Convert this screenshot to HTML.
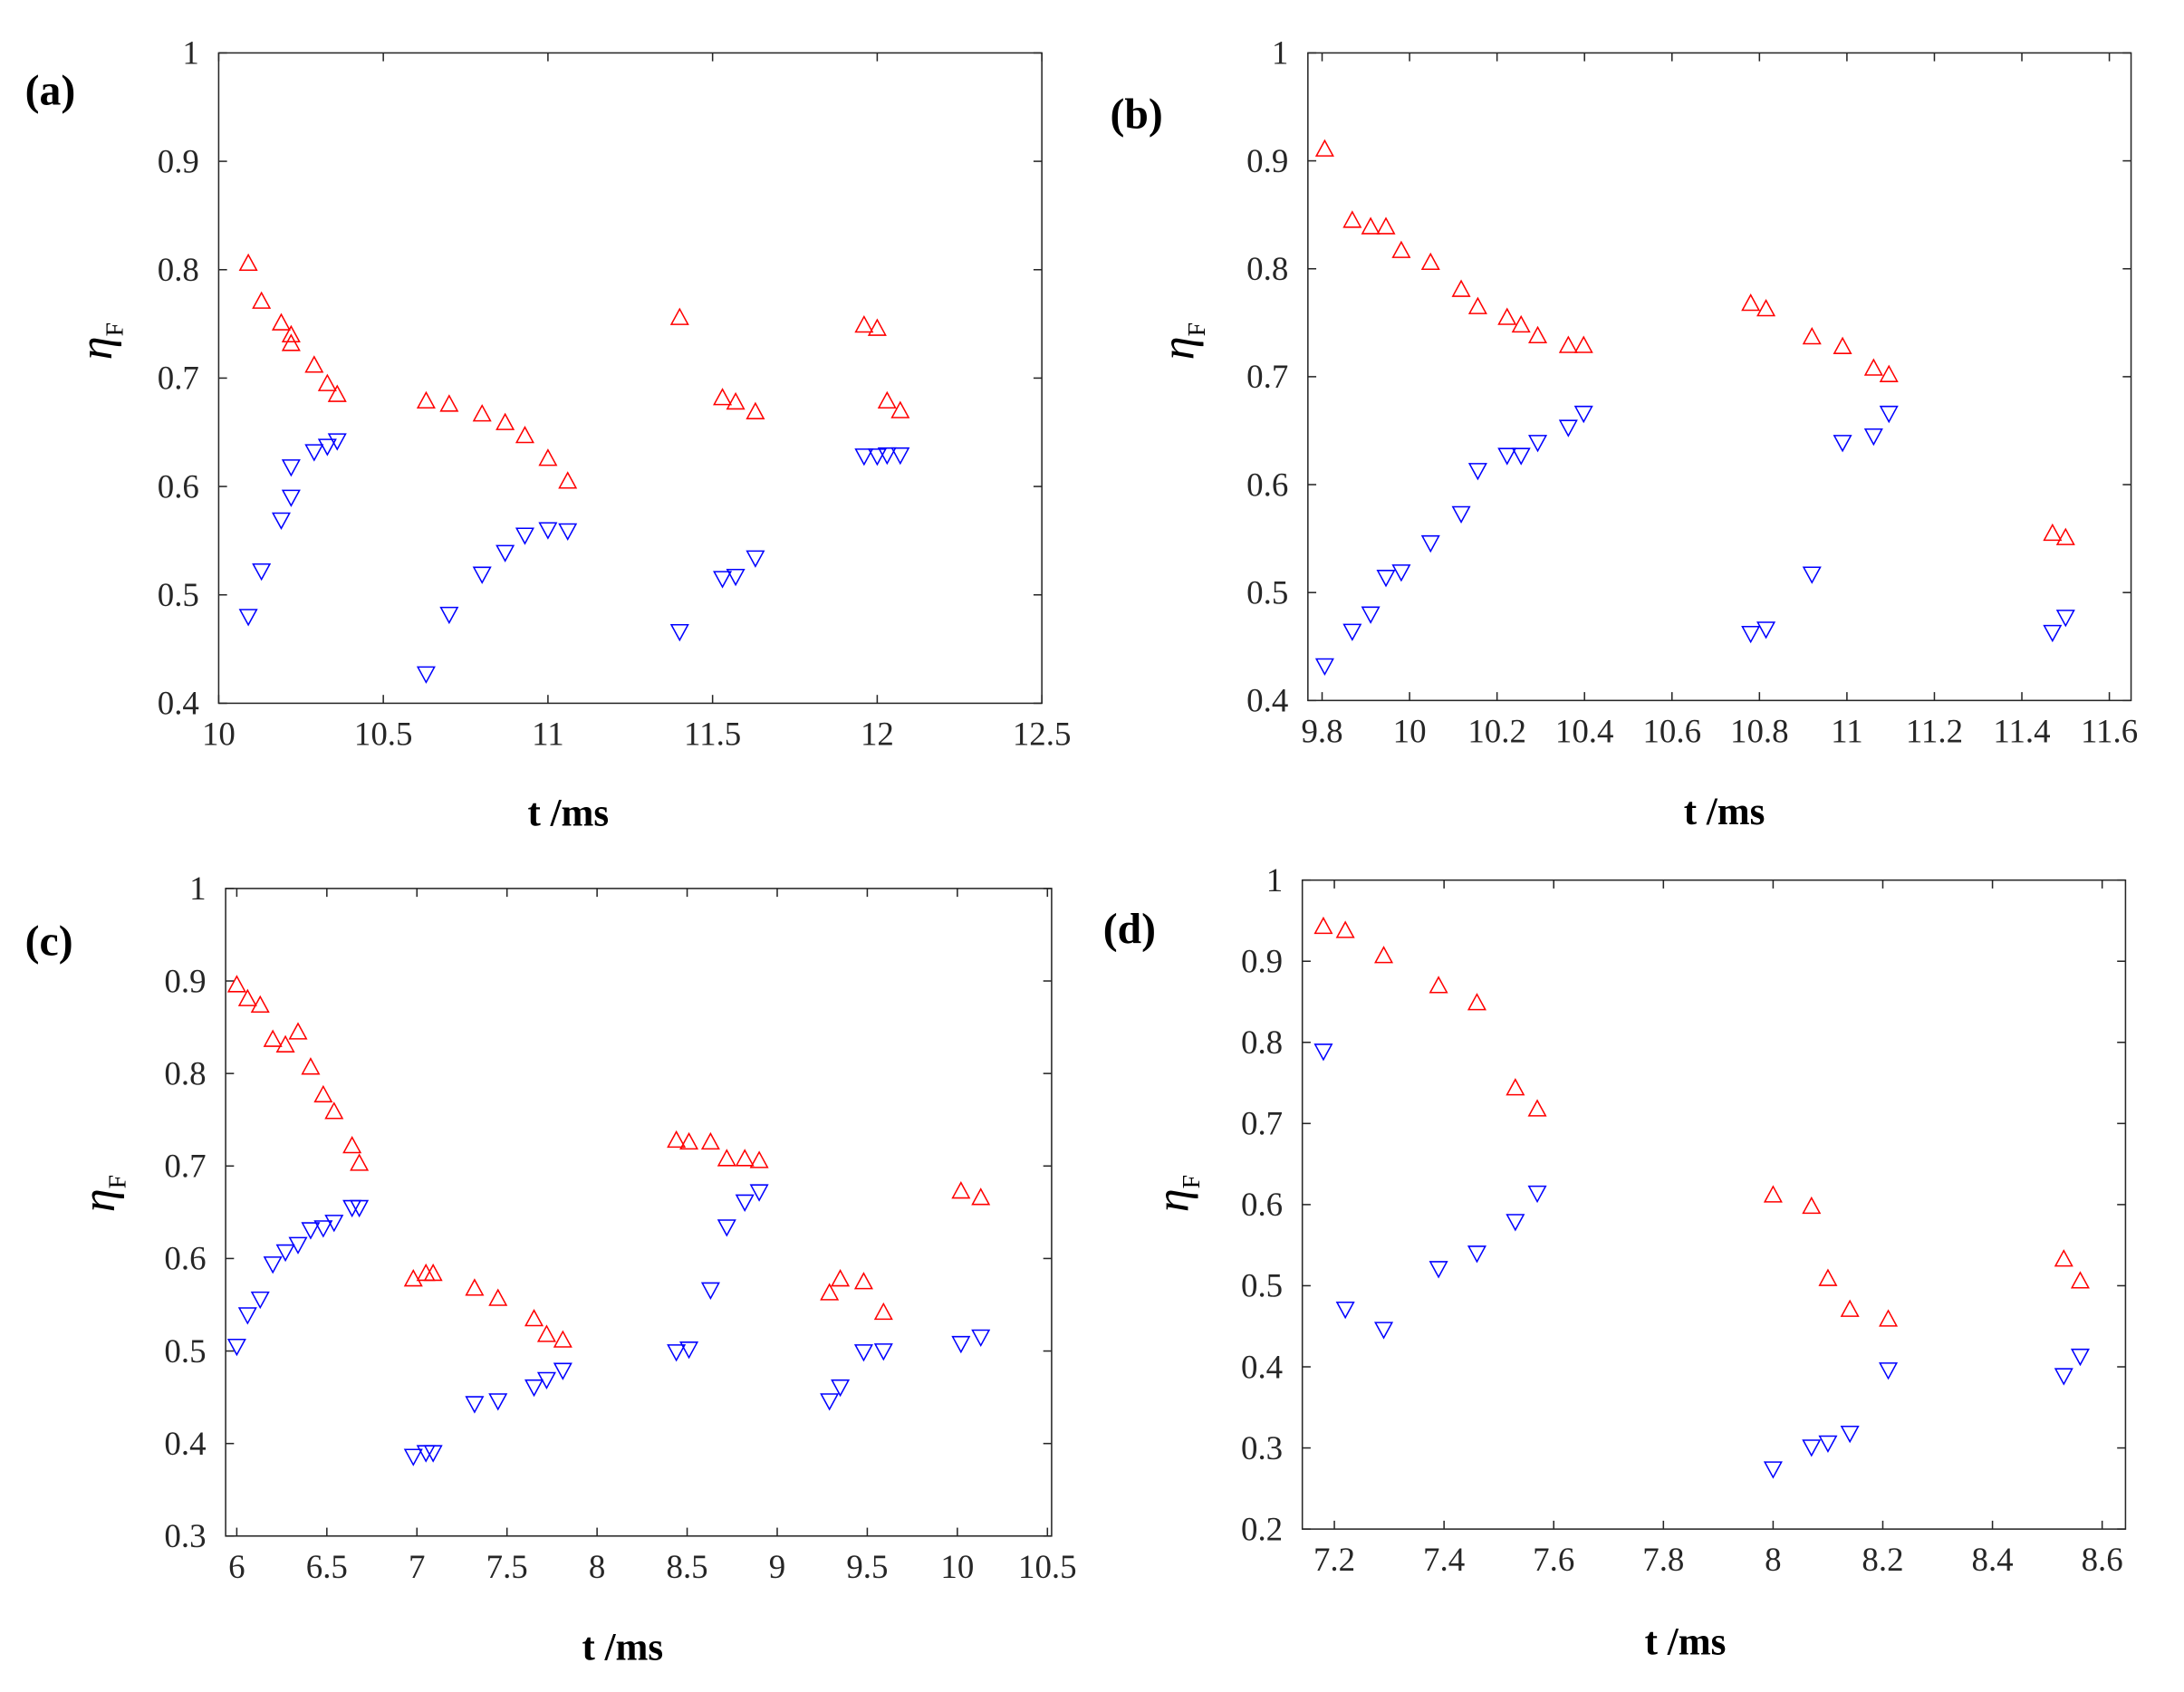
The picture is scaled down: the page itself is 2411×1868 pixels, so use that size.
<!DOCTYPE html>
<html><head><meta charset="utf-8"><style>
html,body{margin:0;padding:0;background:#fff;}
svg{display:block;font-family:"Liberation Serif",serif;}
</style></head><body>
<svg id="fig" width="2411" height="1868" viewBox="0 0 1568 1215" preserveAspectRatio="none" xmlns="http://www.w3.org/2000/svg"></svg>
<script>
// Panel (a)
const aT = [10.09,10.13,10.19,10.22,10.22,10.29,10.33,10.36,10.63,10.70,10.80,10.87,10.93,11.00,11.06,11.40,11.53,11.57,11.63,11.96,12.00,12.03,12.07];
const aRed = [0.806,0.771,0.751,0.740,0.732,0.712,0.695,0.685,0.679,0.676,0.667,0.659,0.647,0.626,0.605,0.756,0.682,0.678,0.669,0.749,0.746,0.679,0.670];
const aBlue = [0.480,0.522,0.569,0.590,0.618,0.632,0.637,0.642,0.427,0.482,0.519,0.539,0.555,0.560,0.559,0.466,0.515,0.517,0.534,0.628,0.628,0.629,0.629];
const aXTicks = [10,10.5,11,11.5,12,12.5];
const aYTicks = [0.4,0.5,0.6,0.7,0.8,0.9,1];
// Panel (b)
const bT = [9.806,9.869,9.911,9.946,9.981,10.048,10.118,10.156,10.223,10.255,10.293,10.363,10.398,10.780,10.815,10.920,10.990,11.061,11.096,11.470,11.500];
const bRed = [0.911,0.845,0.839,0.839,0.817,0.806,0.781,0.765,0.755,0.748,0.738,0.729,0.729,0.768,0.763,0.737,0.728,0.708,0.702,0.555,0.551];
const bBlue = [0.432,0.464,0.480,0.514,0.519,0.546,0.573,0.613,0.627,0.627,0.639,0.653,0.666,0.462,0.466,0.517,0.639,0.645,0.666,0.463,0.477];
const bXTicks = [9.8,10,10.2,10.4,10.6,10.8,11,11.2,11.4,11.6];
const bYTicks = [0.4,0.5,0.6,0.7,0.8,0.9,1];
// Panel (c)
const cTRed = [6.00,6.06,6.13,6.20,6.27,6.34,6.41,6.48,6.54,6.64,6.68,6.98,7.05,7.09,7.32,7.45,7.65,7.72,7.81,8.44,8.51,8.63,8.72,8.82,8.90,9.29,9.35,9.48,9.59,10.02,10.13];
const cRed = [0.896,0.881,0.874,0.837,0.831,0.845,0.807,0.777,0.759,0.722,0.703,0.578,0.584,0.584,0.568,0.557,0.535,0.518,0.512,0.728,0.726,0.726,0.708,0.708,0.706,0.563,0.578,0.575,0.542,0.673,0.666];
const cTBlue = [6.00,6.06,6.13,6.20,6.27,6.34,6.41,6.48,6.54,6.64,6.68,6.98,7.05,7.09,7.32,7.45,7.65,7.72,7.81,8.44,8.51,8.63,8.72,8.82,8.90,9.29,9.35,9.48,9.59,10.02,10.13];
const cBlue = [0.505,0.539,0.556,0.594,0.607,0.615,0.631,0.633,0.639,0.655,0.655,0.386,0.390,0.390,0.443,0.446,0.461,0.469,0.479,0.499,0.502,0.566,0.634,0.661,0.672,0.446,0.461,0.499,0.500,0.508,0.515];
const cXTicks = [6,6.5,7,7.5,8,8.5,9,9.5,10,10.5];
const cYTicks = [0.3,0.4,0.5,0.6,0.7,0.8,0.9,1];
// Panel (d)
const dT = [7.18,7.22,7.29,7.39,7.46,7.53,7.57,8.00,8.07,8.10,8.14,8.21,8.53,8.56];
const dRed = [0.943,0.938,0.907,0.870,0.849,0.744,0.718,0.612,0.598,0.509,0.471,0.459,0.533,0.506];
const dBlue = [0.789,0.471,0.446,0.521,0.540,0.579,0.614,0.274,0.301,0.306,0.318,0.396,0.389,0.413];
const dXTicks = [7.2,7.4,7.6,7.8,8,8.2,8.4,8.6];
const dYTicks = [0.2,0.3,0.4,0.5,0.6,0.7,0.8,0.9,1];

const NS = "http://www.w3.org/2000/svg";
const svg = document.getElementById('fig');
function mk(tag, attrs, parent){const e=document.createElementNS(NS,tag);for(const k in attrs)e.setAttribute(k,attrs[k]);(parent||svg).appendChild(e);return e;}

const panels = [
 {id:'a',L:157,R:748,T:38,B:505,x0:10,x1:12.5,xp0:157,xp1:748,y0:0.4,y1:1,tR:aT,red:aRed,tB:aT,blue:aBlue,xt:aXTicks,yt:aYTicks,lab:[18,75],ylx:80,yly:245,xlx:408,xly:593},
 {id:'b',L:939,R:1530,T:38,B:503,x0:10,x1:11,xp0:1012,xp1:1326,y0:0.4,y1:1,tR:bT,red:bRed,tB:bT,blue:bBlue,xt:bXTicks,yt:bYTicks,lab:[797,92],ylx:857,yly:245,xlx:1238,xly:592},
 {id:'c',L:162,R:755,T:638,B:1103,x0:6,x1:10.5,xp0:170,xp1:752,y0:0.3,y1:1,tR:cTRed,red:cRed,tB:cTBlue,blue:cBlue,xt:cXTicks,yt:cYTicks,lab:[18,686],ylx:82,yly:857,xlx:447,xly:1192},
 {id:'d',L:935,R:1526,T:632,B:1098,x0:7.2,x1:8,xp0:958,xp1:1273,y0:0.2,y1:1,tR:dT,red:dRed,tB:dT,blue:dBlue,xt:dXTicks,yt:dYTicks,lab:[792,677],ylx:853,yly:857,xlx:1210,xly:1188}
];

panels.forEach(p=>{
 const g = mk('g',{});
 
 
 const X = v=>p.xp0+(v-p.x0)*(p.xp1-p.xp0)/(p.x1-p.x0);
 const Y = v=>p.B-(v-p.y0)*(p.B-p.T)/(p.y1-p.y0);
 const box = mk('rect',{x:p.L,y:p.T,width:p.R-p.L,height:p.B-p.T,fill:'none',stroke:'#262626','stroke-width':1},g);
 
 
 p.xt.forEach(v=>{
  const x=X(v);
  mk('line',{x1:x,x2:x,y1:p.B,y2:p.B-6,stroke:'#262626'},g);
  mk('line',{x1:x,x2:x,y1:p.T,y2:p.T+6,stroke:'#262626'},g);
  const t=mk('text',{x:x,y:p.B+30,'text-anchor':'middle','font-size':24,fill:'#262626'},g);
  t.textContent=String(v);
  
  
 });
 p.yt.forEach(v=>{
  const y=Y(v);
  mk('line',{x1:p.L,x2:p.L+6,y1:y,y2:y,stroke:'#262626'},g);
  mk('line',{x1:p.R,x2:p.R-6,y1:y,y2:y,stroke:'#262626'},g);
  const t=mk('text',{x:p.L-14,y:y+8,'text-anchor':'end','font-size':24,fill:'#262626'},g);
  t.textContent=String(v);
  
  
 });
 const lab=mk('text',{x:p.lab[0],y:p.lab[1],'font-size':31,'font-weight':'bold',fill:'#000'},g);
 lab.textContent='('+p.id+')';
 
 
 const xl=mk('text',{x:p.xlx,y:p.xly,'text-anchor':'middle','font-size':28,'font-weight':'bold',fill:'#000'},g);
 xl.textContent='t /ms';
 
 
 const yl=mk('text',{x:0,y:0,'font-size':34,'font-style':'italic',fill:'#000',transform:`translate(${p.ylx},${p.yly}) rotate(-90)`,'text-anchor':'middle'},g);
 
 
 const e1=document.createElementNS(NS,'tspan');e1.textContent='η';yl.appendChild(e1);
 const e2=document.createElementNS(NS,'tspan');e2.setAttribute('font-size','18');e2.setAttribute('font-style','normal');e2.setAttribute('dy','8');e2.textContent='F';yl.appendChild(e2);
 p.red.forEach((v,i)=>{
  const x=X(p.tR[i]), y=Y(v);
  const m=mk('polygon',{points:`${x-6},${y+5} ${x+6},${y+5} ${x},${y-6}`,fill:'none',stroke:'#ff0000','stroke-width':1},g);
  
  
 });
 p.blue.forEach((v,i)=>{
  const x=X(p.tB[i]), y=Y(v);
  const m=mk('polygon',{points:`${x-6},${y-5} ${x+6},${y-5} ${x},${y+6}`,fill:'none',stroke:'#0000ff','stroke-width':1},g);
  
  
 });
});
</script>
</body></html>
